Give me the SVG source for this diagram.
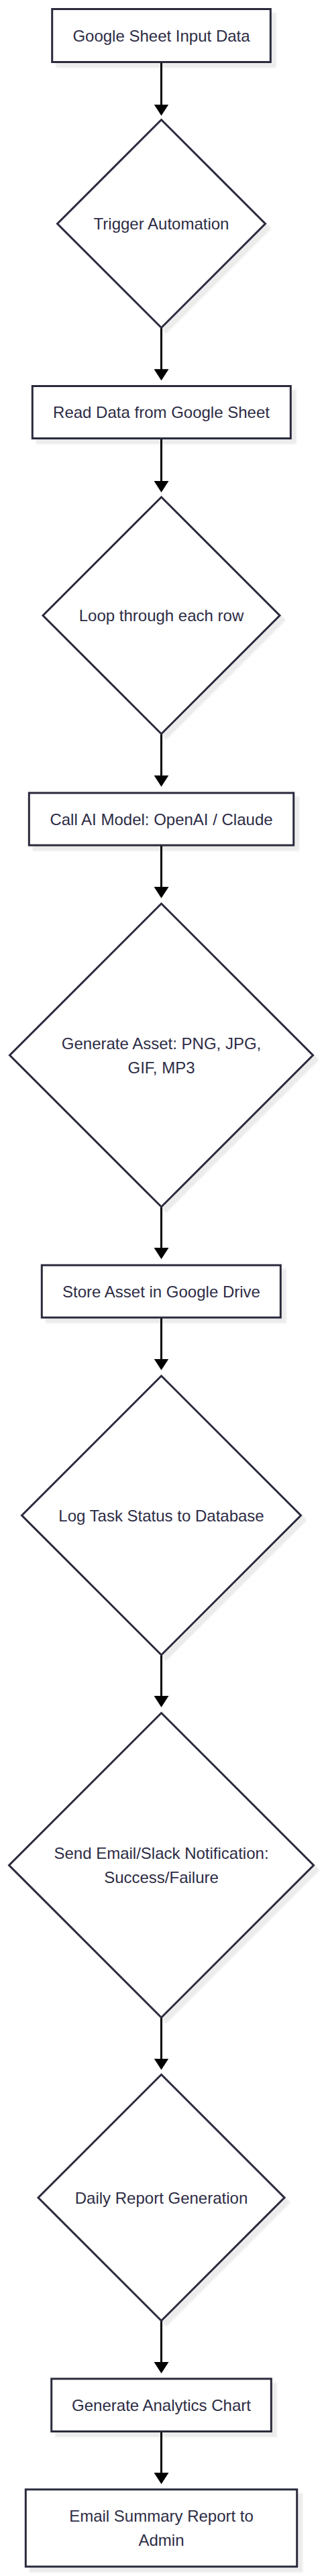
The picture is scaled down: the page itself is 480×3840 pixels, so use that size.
<svg xmlns="http://www.w3.org/2000/svg" width="480" height="3840" viewBox="0 0 480 3840">
  <defs>
    <filter id="shadow" x="-10%" y="-10%" width="130%" height="130%">
      <feDropShadow dx="7" dy="7" stdDeviation="1" flood-color="#000000" flood-opacity="0.075"/>
    </filter>
    <marker id="arrow" viewBox="0 0 17 22" refX="2" refY="11" markerWidth="17" markerHeight="22" markerUnits="userSpaceOnUse" orient="auto">
      <path d="M0,0 L17,11 L0,22 Z" fill="#000000"/>
    </marker>
  </defs>
  <style>
    .node { fill: #ffffff; stroke: #2b2b3d; stroke-width: 3; filter: url(#shadow); }
    .label { font-family: "Liberation Sans", Arial, sans-serif; font-size: 24px; fill: #2d2c45; text-anchor: middle; }
    .edge { stroke: #000000; stroke-width: 3; fill: none; marker-end: url(#arrow); }
  </style>
  <rect width="480" height="3840" fill="#ffffff"/>

  <g id="connectors">
    <line class="edge" x1="240.5" y1="93" x2="240.5" y2="157.5"/>
    <line class="edge" x1="240.5" y1="488.5" x2="240.5" y2="552.3"/>
    <line class="edge" x1="240.5" y1="653.5" x2="240.5" y2="719"/>
    <line class="edge" x1="240.5" y1="1094" x2="240.5" y2="1157.7"/>
    <line class="edge" x1="240.5" y1="1260" x2="240.5" y2="1324"/>
    <line class="edge" x1="240.5" y1="1799" x2="240.5" y2="1862"/>
    <line class="edge" x1="240.5" y1="1964" x2="240.5" y2="2027.5"/>
    <line class="edge" x1="240.5" y1="2467" x2="240.5" y2="2530"/>
    <line class="edge" x1="240.5" y1="3007.5" x2="240.5" y2="3070.5"/>
    <line class="edge" x1="240.5" y1="3459.5" x2="240.5" y2="3523"/>
    <line class="edge" x1="240.5" y1="3624.5" x2="240.5" y2="3688"/>
  </g>

  <g id="node-google-sheet-input">
    <rect class="node" x="77.7" y="13.5" width="325.6" height="79"/>
    <text class="label" x="240.5" y="61.5">Google Sheet Input Data</text>
  </g>

  <g id="node-trigger-automation">
    <polygon class="node" points="240.5,178.5 395.5,333.5 240.5,488.5 85.5,333.5"/>
    <text class="label" x="240.5" y="342">Trigger Automation</text>
  </g>

  <g id="node-read-data">
    <rect class="node" x="48.3" y="575.5" width="385" height="78"/>
    <text class="label" x="240.5" y="623">Read Data from Google Sheet</text>
  </g>

  <g id="node-loop-rows">
    <polygon class="node" points="240.5,741 417,917.5 240.5,1094 64,917.5"/>
    <text class="label" x="240.5" y="926">Loop through each row</text>
  </g>

  <g id="node-call-ai">
    <rect class="node" x="43.3" y="1182" width="394.4" height="78"/>
    <text class="label" x="240.5" y="1229.5">Call AI Model: OpenAI / Claude</text>
  </g>

  <g id="node-generate-asset">
    <polygon class="node" points="240.5,1347 466.5,1573 240.5,1799 14.5,1573"/>
    <text class="label" x="240.5" y="1563.5">Generate Asset: PNG, JPG,</text>
    <text class="label" x="240.5" y="1599.5">GIF, MP3</text>
  </g>

  <g id="node-store-asset">
    <rect class="node" x="62.3" y="1886" width="356" height="78"/>
    <text class="label" x="240.5" y="1933.5">Store Asset in Google Drive</text>
  </g>

  <g id="node-log-status">
    <polygon class="node" points="240.5,2051 448.5,2259 240.5,2467 32.5,2259"/>
    <text class="label" x="240.5" y="2267.5">Log Task Status to Database</text>
  </g>

  <g id="node-send-notification">
    <polygon class="node" points="240.5,2553.5 467.5,2780.5 240.5,3007.5 13.5,2780.5"/>
    <text class="label" x="240.5" y="2770.5">Send Email/Slack Notification:</text>
    <text class="label" x="240.5" y="2806.5">Success/Failure</text>
  </g>

  <g id="node-daily-report">
    <polygon class="node" points="240.5,3092.5 424,3276 240.5,3459.5 57,3276"/>
    <text class="label" x="240.5" y="3284.5">Daily Report Generation</text>
  </g>

  <g id="node-analytics-chart">
    <rect class="node" x="76.7" y="3546" width="327.6" height="78.5"/>
    <text class="label" x="240.5" y="3593.5">Generate Analytics Chart</text>
  </g>

  <g id="node-email-summary">
    <rect class="node" x="38.3" y="3711" width="404.4" height="115"/>
    <text class="label" x="240.5" y="3758.5">Email Summary Report to</text>
    <text class="label" x="240.5" y="3795">Admin</text>
  </g>
</svg>
